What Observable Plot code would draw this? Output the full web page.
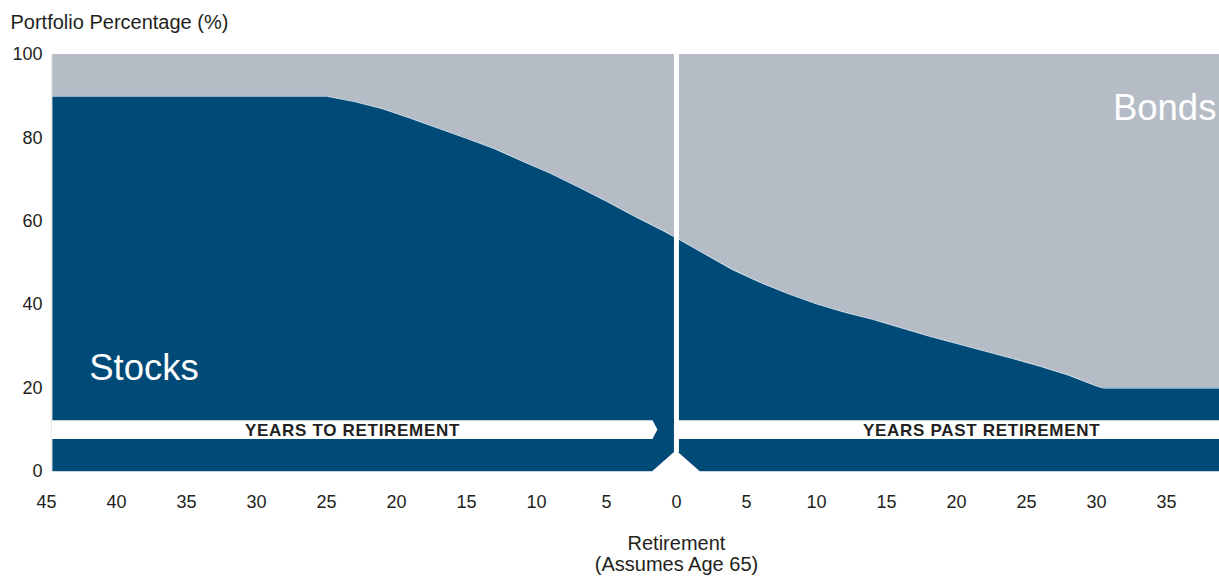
<!DOCTYPE html>
<html>
<head>
<meta charset="utf-8">
<script src="https://cdn.jsdelivr.net/npm/d3@7"></script>
<script src="https://cdn.jsdelivr.net/npm/@observablehq/plot@0.6"></script>
<style>
  html, body { margin: 0; padding: 0; background: #fff; }
  svg { display: block; }
</style>
</head>
<body>
<div id="chart"></div>
<script>
// ---- Data (years relative to retirement; negative = years to retirement) ----
const preYears   = [-45, -25, -23, -21, -19, -17, -15, -13, -11, -9, -7, -5, -3, -1, 0];
const preStocks  = [90, 90, 88.7, 87, 84.7, 82.3, 79.9, 77.4, 74.4, 71.5, 68.2, 64.8, 61.2, 57.8, 56];
const postYears  = [0, 2, 4, 6, 8, 10, 12, 14, 16, 18, 20, 22, 24, 26, 28, 30, 30.5, 39];
const postStocks = [56, 52.2, 48.4, 45.3, 42.6, 40.2, 38.2, 36.5, 34.5, 32.5, 30.7, 28.9, 27.1, 25.2, 23.1, 20.5, 20, 20];

const xTickValues = [-45, -40, -35, -30, -25, -20, -15, -10, -5, 0, 5, 10, 15, 20, 25, 30, 35];
const yTickValues = [0, 20, 40, 60, 80, 100];

const seriesLabels = ["Stocks", "Bonds"];
const bandLabels = ["YEARS TO RETIREMENT", "YEARS PAST RETIREMENT"];
const yTitle = "Portfolio Percentage (%)";
const retirementLabel = ["Retirement", "(Assumes Age 65)"];

// band (white arrow strips) in portfolio-% units
const bandRange = [7.7, 12.2];
const notchHalfWidth = 1.68;  // years
const notchHeight = 5;        // %

const NAVY = "#004a78";
const GREY = "#b5bcc6";
const INK = "#231f20";
const FONT = "'Liberation Sans', Arial, Helvetica, sans-serif";

const pre = preYears.map((x, i) => ({x, stock: preStocks[i]}));
const post = postYears.map((x, i) => ({x, stock: postStocks[i]}));

const bandMid = (bandRange[0] + bandRange[1]) / 2;
const leftBand = [
  {x: -45, y1: bandRange[0], y2: bandRange[1]},
  {x: -notchHalfWidth, y1: bandRange[0], y2: bandRange[1]},
  {x: -notchHalfWidth + 0.36, y1: bandMid, y2: bandMid}
];
const rightBand = [
  {x: 0, y1: bandRange[0], y2: bandRange[1]},
  {x: 39, y1: bandRange[0], y2: bandRange[1]}
];
const notch = [
  {x: -notchHalfWidth, y: 0},
  {x: 0, y: notchHeight},
  {x: notchHalfWidth, y: 0}
];

const areaMarks = (data) => [
  Plot.areaY(data, {x: "x", y1: "stock", y2: 100, fill: GREY, clip: true}),
  Plot.areaY(data, {x: "x", y1: 0, y2: "stock", fill: NAVY, clip: true}),
  Plot.lineY(data, {x: "x", y: "stock", stroke: "#ffffff", strokeWidth: 1, strokeOpacity: 0.8, clip: true})
];

const chart = Plot.plot({
  width: 1219,
  height: 577,
  marginTop: 54,
  marginBottom: 106,
  marginLeft: 52,
  marginRight: 0,
  style: {fontFamily: FONT, background: "#fff", overflow: "visible"},
  x: {domain: [-44.57, 38.79], axis: null},
  y: {domain: [0, 100]},
  marks: [
    ...areaMarks(pre),
    ...areaMarks(post),
    // frame lines
    Plot.ruleY([0], {stroke: "#cfd5dc", strokeWidth: 1}),
    Plot.ruleX([-44.57], {stroke: "#cfd5dc", strokeWidth: 1, dx: -0.5}),
    // retirement divider
    Plot.ruleX([0], {y1: notchHeight - 0.5, y2: 100, stroke: "#ffffff", strokeWidth: 5}),
    Plot.areaY(notch, {x: "x", y1: -0.4, y2: "y", fill: "#ffffff"}),
    // white bands
    Plot.areaY(leftBand, {x: "x", y1: "y1", y2: "y2", fill: "#ffffff", clip: true}),
    Plot.areaY(rightBand, {x: "x", y1: "y1", y2: "y2", fill: "#ffffff", clip: true}),
    Plot.text([bandLabels[0]], {x: -23.14, y: bandMid, dy: 1, text: d => d, fontSize: 17, fontWeight: "bold", fill: INK}),
    Plot.text([bandLabels[1]], {x: 21.8, y: bandMid, dy: 1, text: d => d, fontSize: 17, fontWeight: "bold", fill: INK}),
    // series labels
    Plot.text([seriesLabels[0]], {x: -41.95, y: 24.8, text: d => d, textAnchor: "start", fontSize: 36.5, fill: "#ffffff"}),
    Plot.text([seriesLabels[1]], {x: 38.57, y: 87.2, text: d => d, textAnchor: "end", fontSize: 36.5, fill: "#ffffff"}),
    // axes
    Plot.axisY(yTickValues, {tickSize: 0, tickPadding: 10, fontSize: 18, fill: INK, label: null}),
    Plot.text(xTickValues, {x: d => d, text: d => String(Math.abs(d)), frameAnchor: "bottom", dy: 36, fontSize: 18, fill: INK}),
    Plot.text([retirementLabel[0]], {x: 0, text: d => d, frameAnchor: "bottom", dy: 78, fontSize: 20, fill: INK}),
    Plot.text([retirementLabel[1]], {x: 0, text: d => d, frameAnchor: "bottom", dy: 99, fontSize: 20, fill: INK}),
    Plot.text([yTitle], {frameAnchor: "top-left", lineAnchor: "middle", dx: -42, dy: -32, text: d => d, textAnchor: "start", fontSize: 20, fill: INK})
  ]
});

// letter spacing on band labels to match the wider original face
chart.querySelectorAll("text").forEach(t => {
  if (bandLabels.includes(t.textContent)) t.setAttribute("letter-spacing", "0.7");
});

document.getElementById("chart").appendChild(chart);
</script>
</body>
</html>
